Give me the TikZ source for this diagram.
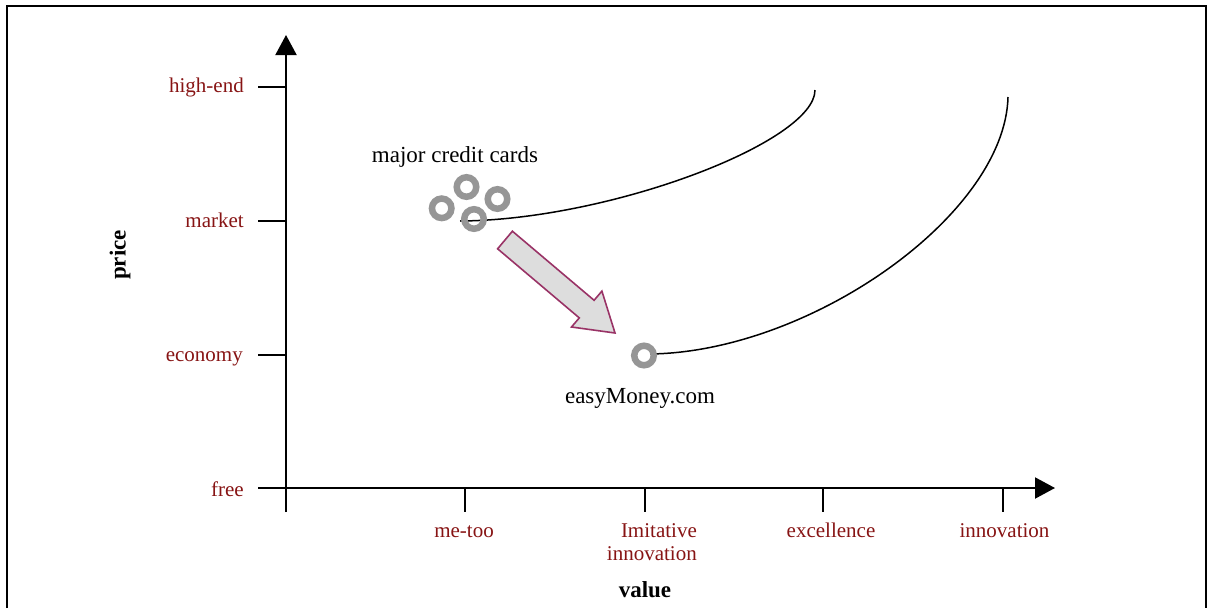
\documentclass[tikz,border=0pt]{standalone}
\usepackage{fontspec}
\setmainfont{Liberation Serif}
\usetikzlibrary{arrows.meta}
\definecolor{lbl}{RGB}{135,20,20}
\definecolor{ringgray}{RGB}{150,150,150}
\definecolor{arrowedge}{RGB}{153,51,102}
\definecolor{arrowfill}{RGB}{221,221,221}
\begin{document}
\begin{tikzpicture}[x=1pt,y=-1pt,
  lblsty/.style={text=lbl, font=\fontsize{21}{23}\selectfont, inner sep=0pt},
  txtsty/.style={text=black, font=\fontsize{23}{25}\selectfont, inner sep=0pt},
  axtitle/.style={text=black, font=\fontsize{23}{25}\selectfont\bfseries, inner sep=0pt},
  axisline/.style={line width=2pt, -{Triangle[width=21pt,length=20pt]}},
  tickline/.style={line width=1.5pt},
  ringnode/.style={circle, draw=ringgray, line width=6.5pt, minimum size=19.5pt, inner sep=0pt},
  curveline/.style={line width=1.5pt},
  blockarrow/.style={draw=arrowedge, fill=arrowfill, line width=1.6pt, line join=miter}]
\useasboundingbox (0,0) rectangle (1209,608);
% frame
\draw[line width=1.6pt] (7,608) -- (7,6) -- (1206,6) -- (1206,608);

% axes
\coordinate (ybot) at (286,512);
\coordinate (ytop) at (286,35);
\coordinate (xleft) at (258,488);
\coordinate (xright) at (1055,488);
\draw[axisline] (ybot) -- (ytop);
\draw[axisline] (xleft) -- (xright);

% y ticks
\foreach \n/\y in {hi/87, mk/221, ec/355} {
  \coordinate (t\n a) at (258,\y);
  \coordinate (t\n b) at (286,\y);
  \draw[tickline] (t\n a) -- (t\n b);
}
% x ticks
\foreach \n/\x in {mt/465, im/645, ex/823, in/1003} {
  \coordinate (t\n a) at (\x,488);
  \coordinate (t\n b) at (\x,512);
  \draw[tickline] (t\n a) -- (t\n b);
}

% y labels
\node[lblsty, anchor=base east] (lhigh) at (244,92) {high-end};
\node[lblsty, anchor=base east] (lmarket) at (244,227) {market};
\node[lblsty, anchor=base east] (leconomy) at (243,361) {economy};
\node[lblsty, anchor=base east] (lfree) at (244,496) {free};

% x labels
\node[lblsty, anchor=base] (lmetoo) at (464,537) {me-too};
\node[lblsty, anchor=base east, align=right] (limit) at (697,560) {Imitative\\innovation};
\node[lblsty, anchor=base] (lexc) at (831,537) {excellence};
\node[lblsty, anchor=base] (linno) at (1004.5,537) {innovation};

% axis titles
\node[axtitle, anchor=base] (value) at (645,597) {value};
\node[axtitle, rotate=90] (price) at (120,255) {price};

% curves
\coordinate (c1s) at (460,221);
\coordinate (c1e) at (815,90);
\coordinate (c2s) at (650,354);
\coordinate (c2e) at (1008,97);
\draw[curveline] (c1s) .. controls (610,220) and (815,142) .. (c1e);
\draw[curveline] (c2s) .. controls (810,352) and (1005,215) .. (c2e);

% rings
\node[ringnode] (r1) at (441.7,208.3) {};
\node[ringnode] (r2) at (466.5,187) {};
\node[ringnode] (r3) at (497.5,199) {};
\node[ringnode] (r4) at (474,219) {};
\node[ringnode] (r5) at (644,355.5) {};

% texts
\node[txtsty, anchor=base] (major) at (455,162) {major credit cards};
\node[txtsty, anchor=base] (easy) at (640,403) {easyMoney.com};

% block arrow
\draw[blockarrow] (512.4,231.2) -- (594.1,300.3) -- (601.9,291.1) -- (615,333)
  -- (571.5,327) -- (579.3,317.9) -- (497.6,248.8) -- cycle;
\end{tikzpicture}
\end{document}
